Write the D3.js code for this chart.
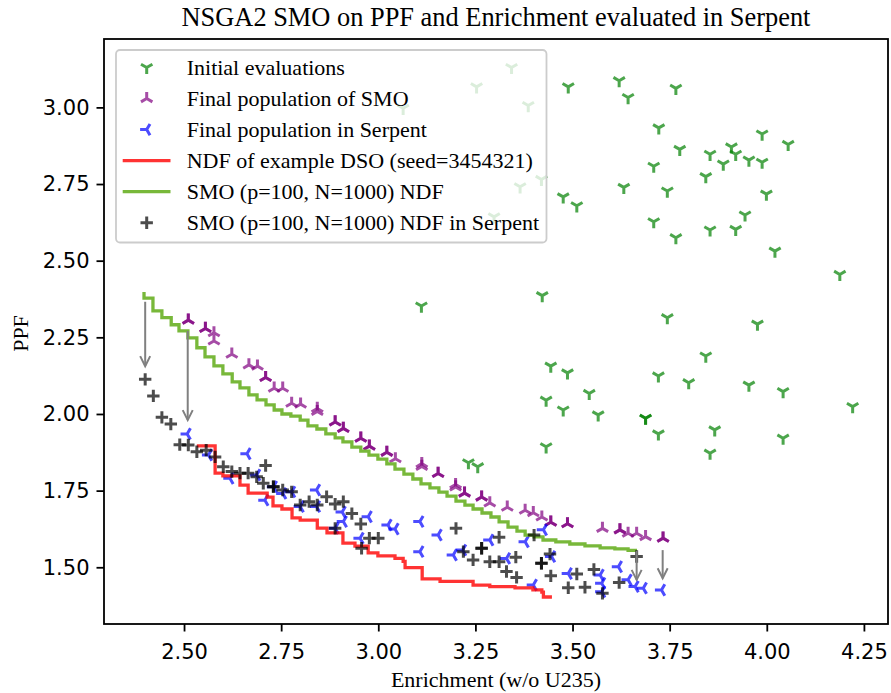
<!DOCTYPE html>
<html><head><meta charset="utf-8">
<script src="https://cdn.jsdelivr.net/npm/d3@7"></script>
<style>body{margin:0;background:#fff}svg{display:block}</style>
</head><body><svg id="c" width="891" height="693"></svg>
<script>
// ---------- DATA ----------
const xTicks = [2.50, 2.75, 3.00, 3.25, 3.50, 3.75, 4.00, 4.25];
const yTicks = [1.50, 1.75, 2.00, 2.25, 2.50, 2.75, 3.00];

const initX = [3.343,3.253,3.386,3.064,3.420,3.365,3.298,3.489,3.620,3.643,3.766,3.722,3.988,4.055,3.776,3.854,3.909,3.920,3.888,3.954,3.988,3.709,3.843,3.632,3.744,3.999,3.476,3.511,3.944,3.709,3.766,3.854,3.920,4.021,4.188,3.422,3.111,3.744,3.976,3.843,3.721,3.799,3.954,4.042,3.543,4.221,3.566,3.688,3.688,3.721,3.866,4.042,3.854,3.444,3.487,3.432,3.476,3.432,3.232,3.256];
const initY = [3.130,3.067,3.006,2.997,2.765,2.741,2.643,3.067,3.087,3.032,3.062,2.933,2.913,2.879,2.863,2.847,2.871,2.847,2.815,2.828,2.821,2.808,2.774,2.739,2.727,2.717,2.708,2.679,2.649,2.627,2.575,2.600,2.602,2.531,2.455,2.386,2.352,2.314,2.293,2.189,2.124,2.102,2.094,2.073,2.067,2.024,1.997,1.986,1.986,1.935,1.948,1.921,1.872,2.156,2.134,2.045,2.013,1.893,1.841,1.828];

const smoX = [2.511,2.511,2.555,2.555,2.577,2.577,2.623,2.667,2.689,2.710,2.710,2.732,2.754,2.777,2.800,2.843,2.843,2.889,2.889,2.910,2.910,2.955,2.955,2.977,2.977,3.022,3.022,3.044,3.112,3.112,3.154,3.154,3.199,3.199,3.222,3.222,3.266,3.266,3.287,3.332,3.378,3.399,3.421,3.444,3.444,3.487,3.487,3.577,3.622,3.622,3.643,3.665,3.688,3.733,3.733];
const smoY = [2.306,2.306,2.279,2.279,2.265,2.238,2.195,2.160,2.156,2.119,2.119,2.084,2.084,2.035,2.032,2.018,2.008,1.974,1.974,1.953,1.953,1.921,1.921,1.895,1.895,1.875,1.875,1.854,1.838,1.829,1.806,1.806,1.770,1.762,1.742,1.742,1.729,1.729,1.710,1.696,1.686,1.678,1.664,1.647,1.647,1.642,1.642,1.627,1.622,1.622,1.611,1.611,1.600,1.595,1.595];

const serpX = [2.508,2.563,2.662,2.618,2.687,2.708,2.730,2.754,2.777,2.799,2.841,2.841,2.907,2.910,2.974,2.953,2.889,3.025,3.043,3.107,3.154,3.107,3.193,3.217,3.287,3.378,3.425,3.330,3.446,3.399,3.489,3.571,3.575,3.575,3.618,3.643,3.661,3.682,3.729];
const serpY = [1.935,1.866,1.870,1.790,1.801,1.719,1.763,1.741,1.746,1.698,1.752,1.698,1.680,1.649,1.665,1.595,1.627,1.638,1.625,1.649,1.605,1.551,1.540,1.556,1.589,1.583,1.622,1.529,1.535,1.442,1.480,1.475,1.448,1.420,1.502,1.459,1.437,1.432,1.426];

const dsoX = [2.533,2.580,2.600,2.644,2.665,2.714,2.729,2.752,2.778,2.799,2.843,2.868,2.909,2.940,2.974,2.999,3.043,3.064,3.069,3.113,3.159,3.244,3.287,3.352,3.398,3.421,3.425,3.447];
const dsoY = [1.896,1.896,1.807,1.798,1.768,1.742,1.729,1.700,1.690,1.661,1.654,1.628,1.612,1.579,1.569,1.547,1.537,1.529,1.519,1.499,1.462,1.454,1.442,1.437,1.433,1.426,1.419,1.403];

const ndfX = [2.397,2.420,2.443,2.467,2.487,2.510,2.533,2.554,2.577,2.600,2.624,2.644,2.667,2.688,2.711,2.732,2.752,2.775,2.799,2.819,2.842,2.865,2.889,2.909,2.932,2.955,2.976,2.999,3.022,3.043,3.066,3.089,3.110,3.133,3.156,3.177,3.200,3.223,3.244,3.267,3.290,3.311,3.334,3.357,3.378,3.401,3.424,3.457,3.493,3.532,3.571,3.609,3.643,3.666];
const ndfY = [2.398,2.378,2.336,2.314,2.291,2.271,2.248,2.216,2.186,2.157,2.131,2.105,2.085,2.062,2.046,2.030,2.013,2.000,1.993,1.980,1.961,1.951,1.935,1.922,1.909,1.892,1.879,1.866,1.853,1.837,1.820,1.804,1.788,1.772,1.759,1.745,1.732,1.716,1.703,1.690,1.677,1.664,1.648,1.631,1.618,1.605,1.599,1.589,1.583,1.576,1.570,1.563,1.560,1.555];

const ndfSerpX = [2.400,2.421,2.443,2.466,2.489,2.511,2.533,2.557,2.580,2.601,2.623,2.644,2.665,2.687,2.710,2.704,2.730,2.730,2.754,2.777,2.799,2.822,2.843,2.867,2.889,2.910,2.932,2.955,2.889,2.977,3.000,2.957,3.200,3.219,3.244,3.266,3.266,3.287,3.311,3.311,3.330,3.354,3.356,3.420,3.420,3.442,3.444,3.401,3.489,3.511,3.532,3.555,3.577,3.620,3.665];
const ndfSerpY = [2.113,2.059,1.989,1.967,1.900,1.899,1.877,1.882,1.860,1.828,1.812,1.807,1.807,1.795,1.832,1.774,1.763,1.763,1.752,1.746,1.703,1.714,1.703,1.730,1.706,1.714,1.675,1.641,1.627,1.595,1.595,1.562,1.627,1.551,1.524,1.562,1.562,1.518,1.598,1.518,1.486,1.533,1.467,1.513,1.513,1.543,1.472,1.605,1.433,1.478,1.435,1.493,1.415,1.450,1.535];

// arrows (data units): x, tail y, tip y
const arrowX = [2.400, 2.5095, 3.665, 3.732];
const arrowTail = [2.366, 2.271, 1.553, 1.556];
const arrowTip = [2.156, 1.980, 1.459, 1.464];

const legendLabels = ["Initial evaluations","Final population of SMO","Final population in Serpent","NDF of example DSO (seed=3454321)","SMO (p=100, N=1000) NDF","SMO (p=100, N=1000) NDF in Serpent"];

// ---------- DRAW ----------
const svg = d3.select("#c");
const L=104, R=888, T=39, B=624;
const x = d3.scaleLinear().domain([2.294, 4.312]).range([L, R]);
const y = d3.scaleLinear().domain([1.315, 3.223]).range([B, T]);
const serif = "'Liberation Serif','Times New Roman',serif";
const sans = "'DejaVu Sans',sans-serif";

const C = {green:"#008000", purple:"#800080", blue:"#0000ff", red:"#ff0000", lime:"#78b83a", black:"#000000"};

function triPath(kind, r){
  const a=0.866*r, b=0.5*r;
  if(kind==="down") return `M0,0L0,${r}M0,0L${-a},${-b}M0,0L${a},${-b}`;
  if(kind==="up") return `M0,0L0,${-r}M0,0L${-a},${b}M0,0L${a},${b}`;
  if(kind==="left") return `M0,0L${-r},0M0,0L${b},${-a}M0,0L${b},${a}`;
  return `M${-r},0L${r},0M0,${-r}L0,${r}`;
}
const MR=6.6, PR=6.2, SW=3.0;

function markers(g, xs, ys, kind, color, r, sw){
  g.selectAll(null).data(xs.map((v,i)=>[v,ys[i]])).enter().append("path")
    .attr("transform", d=>`translate(${x(d[0])},${y(d[1])})`)
    .attr("d", triPath(kind, r))
    .attr("fill","none").attr("stroke",color).attr("stroke-opacity",0.7)
    .attr("stroke-width",sw).attr("stroke-linecap","butt");
}

const plot = svg.append("g");
markers(plot, initX, initY, "down", C.green, MR, SW);
markers(plot, smoX, smoY, "up", C.purple, MR, SW);
markers(plot, serpX, serpY, "left", C.blue, MR, SW);

const line = d3.line().x(d=>x(d[0])).y(d=>y(d[1])).curve(d3.curveStepBefore);
plot.append("path").attr("d", line(dsoX.map((v,i)=>[v,dsoY[i]])))
  .attr("fill","none").attr("stroke",C.red).attr("stroke-opacity",0.8).attr("stroke-width",3.3);
plot.append("path").attr("d", line(ndfX.map((v,i)=>[v,ndfY[i]])))
  .attr("fill","none").attr("stroke",C.lime).attr("stroke-width",3.3);
markers(plot, ndfSerpX, ndfSerpY, "plus", C.black, PR, SW);

// arrows
arrowX.forEach((ax,i)=>{
  const px=x(ax), y0=y(arrowTail[i]), y1=y(arrowTip[i]);
  const g=plot.append("g").attr("stroke","#808080").attr("stroke-width",2).attr("fill","none");
  g.append("line").attr("x1",px).attr("x2",px).attr("y1",y0).attr("y2",y1);
  g.append("path").attr("d",`M${px-5},${y1-10}L${px},${y1}L${px+5},${y1-10}`);
});

// axes
const xAxis = svg.append("g").attr("transform",`translate(0,${B})`)
  .call(d3.axisBottom(x).tickValues(xTicks).tickFormat(d3.format(".2f")).tickSize(7.5).tickPadding(8));
const yAxis = svg.append("g").attr("transform",`translate(${L},0)`)
  .call(d3.axisLeft(y).tickValues(yTicks).tickFormat(d3.format(".2f")).tickSize(7.5).tickPadding(7));
[xAxis,yAxis].forEach(a=>{
  a.select(".domain").remove();
  a.selectAll(".tick line").attr("stroke","#000").attr("stroke-width",1.8);
  a.selectAll(".tick text").attr("font-family",sans).attr("font-size",21).attr("fill","#000");
});
xAxis.selectAll(".tick text").attr("dy","0.95em");
svg.append("rect").attr("x",L).attr("y",T).attr("width",R-L).attr("height",B-T)
  .attr("fill","none").attr("stroke","#000").attr("stroke-width",1.8);

// titles
svg.append("text").attr("x",(L+R)/2).attr("y",26).attr("text-anchor","middle")
  .attr("font-family",serif).attr("font-size",26.4).text("NSGA2 SMO on PPF and Enrichment evaluated in Serpent");
svg.append("text").attr("x",(L+R)/2).attr("y",687).attr("text-anchor","middle")
  .attr("font-family",serif).attr("font-size",22).text("Enrichment (w/o U235)");
svg.append("text").attr("transform",`translate(28,${(T+B)/2+2}) rotate(-90)`).attr("text-anchor","middle")
  .attr("font-family",serif).attr("font-size",22).text("PPF");

// legend
const lg = svg.append("g");
lg.append("rect").attr("x",116).attr("y",50).attr("width",430.5).attr("height",192.5).attr("rx",4)
  .attr("fill","#fff").attr("fill-opacity",0.8).attr("stroke","#cccccc").attr("stroke-width",1.8);
const rowY = i => 67.5 + i*31.05;
const hx = 146.7;
const kinds = [["down",C.green],["up",C.purple],["left",C.blue]];
kinds.forEach((k,i)=>{
  lg.append("path").attr("transform",`translate(${hx},${rowY(i)})`).attr("d",triPath(k[0],MR))
    .attr("fill","none").attr("stroke",k[1]).attr("stroke-opacity",0.7).attr("stroke-width",SW);
});
lg.append("line").attr("x1",122.7).attr("x2",170.5).attr("y1",rowY(3)).attr("y2",rowY(3))
  .attr("stroke",C.red).attr("stroke-opacity",0.8).attr("stroke-width",3.3);
lg.append("line").attr("x1",122.7).attr("x2",170.5).attr("y1",rowY(4)).attr("y2",rowY(4))
  .attr("stroke",C.lime).attr("stroke-width",3.3);
lg.append("path").attr("transform",`translate(${hx},${rowY(5)})`).attr("d",triPath("plus",PR))
  .attr("fill","none").attr("stroke","#000").attr("stroke-opacity",0.7).attr("stroke-width",SW);
legendLabels.forEach((t,i)=>{
  lg.append("text").attr("x",186.7).attr("y",rowY(i)+7.3).attr("font-family",serif).attr("font-size",22).text(t);
});
</script></body></html>
